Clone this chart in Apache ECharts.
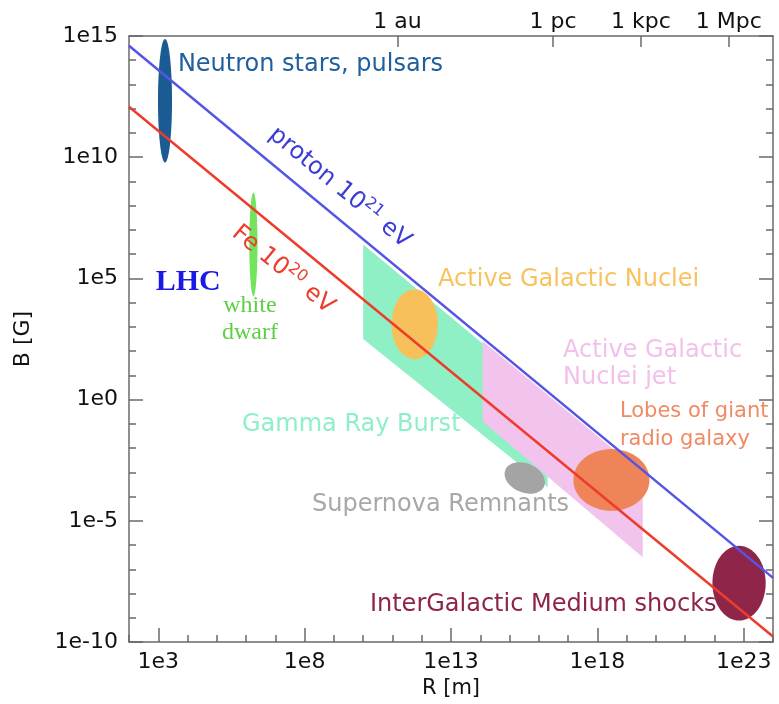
<!DOCTYPE html>
<html><head><meta charset="utf-8">
<script src="https://cdn.jsdelivr.net/npm/echarts@6/dist/echarts.min.js"></script>
<style>html,body{margin:0;padding:0;background:#fff}#c{width:779px;height:704px}</style>
</head><body><div id="c"></div>
<script>
// ---- axes (all values are log10 of R [m] and B [G]) ----
const xMin = 2, xMax = 24, yMin = -10, yMax = 15;
const xMajorTicks = [3, 8, 13, 18, 23];
const topTickNames = ['1 au', '1 pc', '1 kpc', '1 Mpc'];
const topTickValues = [11.175, 16.489, 19.489, 22.489];

// ---- Hillas limit lines ----
const protonR = [2, 24], protonB = [14.6, -7.35];
const ironR = [2, 24], ironB = [12.08, -9.77];

// ---- bands (polygons) ----
const grbR = [10, 10, 16.3, 16.3], grbB = [6.4, 2.5, -3.6, 0.1];
const jetR = [14.08, 14.08, 19.55, 19.55], jetB = [2.42, -0.9, -6.5, -3.05];

// ---- source ellipses ----
const ellName = ['Neutron stars', 'White dwarf', 'AGN', 'Supernova Remnants', 'Radio lobes', 'IGM shocks'];
const ellR = [3.23, 6.25, 11.76, 15.52, 18.48, 22.84];
const ellB = [12.33, 6.4, 3.11, -3.23, -3.31, -7.57];
const ellHalfR = [0.24, 0.14, 0.79, 0.72, 1.30, 0.91];
const ellHalfB = [2.55, 2.14, 1.44, 0.6, 1.27, 1.54];
const ellTilt = [0, 0, 0, -0.4, 0, 0];
const ellColor = ['#1b5b93', '#74e35e', '#f8c05b', '#a4a4a4', '#ee8457', '#8f264a'];

// ---- text labels ----
const lblText = ['Neutron stars, pulsars', 'LHC', 'white\ndwarf', 'Active Galactic Nuclei',
  'Active Galactic\nNuclei jet', 'Gamma Ray Burst', 'Lobes of giant\nradio galaxy',
  'Supernova Remnants', 'InterGalactic Medium shocks'];
const lblR = [3.67, 4.02, 6.13, 12.56, 16.83, 5.86, 18.77, 8.25, 10.23];
const lblB = [13.8, 4.86, 3.3, 4.95, 1.47, -1.03, -1.07, -4.32, -8.48];
const lblColor = ['#1f5f9c', '#1a1ae6', '#5fcf45', '#f8c25e', '#f2c0ea', '#8df0c6', '#f08a64', '#a8a8a8', '#8e2548'];
const lblAlign = ['left', 'center', 'center', 'left', 'left', 'left', 'left', 'left', 'left'];
const lblFont = ['24px "DejaVu Sans"', 'bold 30px "Liberation Serif"', '24px "Liberation Serif"',
  '24px "DejaVu Sans"', '24px "DejaVu Sans"', '24px "DejaVu Sans"', '21px "DejaVu Sans"',
  '24px "DejaVu Sans"', '24px "DejaVu Sans"'];
const lblLineH = [26, 32, 27, 26, 27, 26, 28, 26, 26];

// labels along the limit lines
const lineLblR = [9.2, 7.26], lineLblB = [8.74, 5.36];
const lineLblText = ['proton 10{s|21} eV', 'Fe 10{s|20} eV'];
const lineLblColor = ['#3b3bd8', '#ee3c2c'];

const axisColor = '#6a6a6a';
const chart = echarts.init(document.getElementById('c'));

function bandItem(R, B) { const v = []; for (let i = 0; i < R.length; i++) { v.push(R[i], B[i]); } return v; }

const option = {
  animation: false,
  grid: { left: 129, right: 6, top: 36, bottom: 61, containLabel: false },
  xAxis: [
    { type: 'value', position: 'bottom', min: xMin, max: xMax, interval: 1,
      axisLine: { show: true, onZero: false, lineStyle: { color: axisColor, width: 1.5 } },
      axisTick: { show: true, inside: true, length: 7, lineStyle: { color: axisColor, width: 1.5 } },
      axisLabel: { customValues: xMajorTicks, formatter: v => '1e' + v, fontSize: 22, color: '#111',
        fontFamily: 'DejaVu Sans', margin: 9 },
      splitLine: { show: false },
      name: 'R [m]', nameLocation: 'middle', nameGap: 31,
      nameTextStyle: { fontSize: 21, color: '#111', fontFamily: 'DejaVu Sans' } },
    { type: 'value', position: 'bottom', min: xMin, max: xMax, interval: 1,
      axisLine: { show: false, onZero: false },
      axisTick: { show: true, inside: true, length: 14, customValues: xMajorTicks, lineStyle: { color: axisColor, width: 1.5 } },
      axisLabel: { show: false }, splitLine: { show: false } },
    { type: 'value', position: 'top', min: xMin, max: xMax,
      axisLine: { show: true, onZero: false, lineStyle: { color: axisColor, width: 1.5 } },
      axisTick: { show: true, inside: true, length: 11, customValues: topTickValues, lineStyle: { color: axisColor, width: 1.5 } },
      axisLabel: { customValues: topTickValues, formatter: v => topTickNames[topTickValues.indexOf(v)] || '',
        fontSize: 22, color: '#111', fontFamily: 'DejaVu Sans', margin: 3 },
      splitLine: { show: false } }
  ],
  yAxis: [
    { type: 'value', position: 'left', min: yMin, max: yMax, interval: 5,
      axisLine: { show: true, onZero: false, lineStyle: { color: axisColor, width: 1.5 } },
      axisTick: { show: true, inside: true, length: 14, lineStyle: { color: axisColor, width: 1.5 } },
      minorTick: { show: true, splitNumber: 5, length: 7, lineStyle: { color: axisColor, width: 1.5 } },
      axisLabel: { formatter: v => '1e' + v, fontSize: 22, color: '#111', fontFamily: 'DejaVu Sans', margin: 11 },
      splitLine: { show: false }, minorSplitLine: { show: false },
      name: 'B [G]', nameLocation: 'middle', nameGap: 95, nameRotate: 90,
      nameTextStyle: { fontSize: 22, color: '#111', fontFamily: 'DejaVu Sans' } },
    { type: 'value', position: 'right', min: yMin, max: yMax, interval: 5,
      axisLine: { show: true, onZero: false, lineStyle: { color: axisColor, width: 1.5 } },
      axisTick: { show: true, inside: true, length: 14, lineStyle: { color: axisColor, width: 1.5 } },
      minorTick: { show: true, splitNumber: 5, length: 7, lineStyle: { color: axisColor, width: 1.5 } },
      axisLabel: { show: false }, splitLine: { show: false } }
  ],
  series: [
    { type: 'custom', name: 'bands', z: 1, silent: true,
      data: [bandItem(grbR, grbB), bandItem(jetR, jetB)],
      encode: { x: [0, 2, 4, 6], y: [1, 3, 5, 7] },
      renderItem: (params, api) => {
        const pts = [];
        for (let i = 0; i < 4; i++) pts.push(api.coord([api.value(2 * i), api.value(2 * i + 1)]));
        return { type: 'polygon', shape: { points: pts },
          style: { fill: params.dataIndex === 0 ? '#8ff0c6' : '#f2c3ec' } };
      } },
    { type: 'custom', name: 'sources', z: 2, silent: true,
      data: ellR.map((r, i) => [r, ellB[i], ellHalfR[i], ellHalfB[i], ellTilt[i]]),
      encode: { x: 0, y: 1 },
      renderItem: (params, api) => {
        const c = api.coord([api.value(0), api.value(1)]);
        const s = api.size([api.value(2), api.value(3)]);
        return { type: 'ellipse', x: c[0], y: c[1], rotation: api.value(4),
          shape: { cx: 0, cy: 0, rx: s[0], ry: s[1] },
          style: { fill: ellColor[params.dataIndex] } };
      } },
    { type: 'line', name: 'proton 1e21 eV', z: 3, data: protonR.map((r, i) => [r, protonB[i]]),
      showSymbol: false, symbol: 'none', lineStyle: { color: '#5555e5', width: 2.5 } },
    { type: 'line', name: 'Fe 1e20 eV', z: 3, data: ironR.map((r, i) => [r, ironB[i]]),
      showSymbol: false, symbol: 'none', lineStyle: { color: '#ee3c2c', width: 2.5 } },
    { type: 'custom', name: 'labels', z: 4, silent: true,
      data: lblR.map((r, i) => [r, lblB[i]]),
      encode: { x: 0, y: 1 },
      renderItem: (params, api) => {
        const i = params.dataIndex;
        const c = api.coord([api.value(0), api.value(1)]);
        return { type: 'text', x: c[0], y: c[1],
          style: { text: lblText[i], fill: lblColor[i], font: lblFont[i], align: lblAlign[i],
            verticalAlign: 'middle', lineHeight: lblLineH[i] } };
      } },
    { type: 'custom', name: 'lineLabels', z: 4, silent: true,
      data: lineLblR.map((r, i) => [r, lineLblB[i]]),
      encode: { x: 0, y: 1 },
      renderItem: (params, api) => {
        const i = params.dataIndex;
        const c = api.coord([api.value(0), api.value(1)]);
        const R = i === 0 ? protonR : ironR, B = i === 0 ? protonB : ironB;
        const p1 = api.coord([R[0], B[0]]), p2 = api.coord([R[1], B[1]]);
        const ang = -Math.atan2(p2[1] - p1[1], p2[0] - p1[0]);
        return { type: 'text', x: c[0], y: c[1], rotation: ang,
          style: { text: lineLblText[i], fill: lineLblColor[i], fontSize: 24, fontFamily: 'DejaVu Sans',
            align: 'center', verticalAlign: 'middle', lineHeight: 30,
            rich: { s: { fontSize: 16, fontFamily: 'DejaVu Sans', fill: lineLblColor[i], verticalAlign: 'top', lineHeight: 16 } } } };
      } }
  ]
};
chart.setOption(option);
</script>
</body></html>
